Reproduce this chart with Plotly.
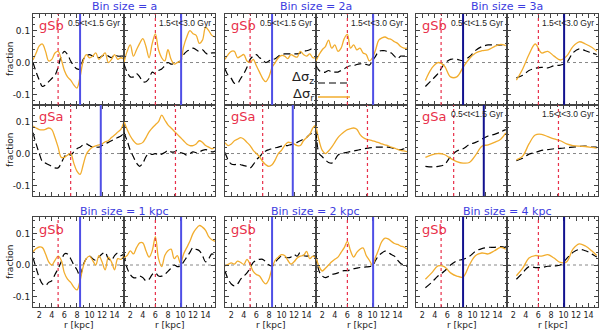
import plotly.graph_objects as go

W, H = 600, 330

# radius grids (kpc)
R_FINE = [1.0, 1.5, 2.0, 2.5, 3.0, 3.5, 4.0, 4.5, 5.0, 5.5, 6.0, 6.5, 7.0, 7.5, 8.0,
          8.5, 9.0, 9.5, 10.0, 10.5, 11.0, 11.5, 12.0, 12.5, 13.0, 13.5, 14.0, 14.5, 15.0, 15.5]
R_COARSE = [2.5, 3.5, 4.5, 5.5, 6.5, 7.5, 8.5, 9.5, 10.5, 11.5, 12.5, 13.5, 14.5, 15.3]

# ---- bin size = a, gSb (0.5<t<1.5 / 1.5<t<3.0) ----
A_SB_Z1 = [0.0, -0.03, -0.055, -0.075, -0.07, -0.06, -0.05, -0.04, -0.015, 0.02, 0.035, 0.025, 0.005, -0.01, -0.02,
           -0.02, 0.01, 0.02, 0.025, 0.02, 0.02, 0.015, 0.02, 0.025, 0.02, 0.015, 0.025, 0.02, 0.02, 0.022]
A_SB_R1 = [0.008, 0.03, 0.052, 0.058, 0.035, 0.005, 0.01, 0.03, 0.035, 0.01, -0.025, -0.045, -0.055, -0.07, -0.08,
           -0.045, 0.005, 0.025, 0.015, 0.02, 0.03, 0.01, 0.02, 0.03, 0.0, 0.01, 0.025, 0.01, 0.015, 0.01]
A_SB_Z2 = [-0.005, -0.03, -0.045, -0.045, -0.035, -0.045, -0.06, -0.06, -0.05, -0.03, -0.035, -0.025, -0.02, -0.01, 0.0,
           -0.005, -0.003, 0.0, 0.005, 0.025, 0.035, 0.04, 0.045, 0.04, 0.035, 0.04, 0.03, 0.025, 0.03, 0.03]
A_SB_R2 = [0.0, 0.035, 0.055, 0.02, 0.04, 0.06, 0.075, 0.05, 0.015, 0.06, 0.09, 0.04, 0.015, 0.005, 0.04,
           0.01, -0.005, 0.0, 0.005, 0.05, 0.08, 0.1, 0.09, 0.085, 0.06, 0.07, 0.11, 0.1, 0.085, 0.08]

# ---- bin size = 2a, gSb ----
B_SB_Z1 = [-0.02, -0.04, -0.05, -0.065, -0.065, -0.05, -0.035, -0.015, 0.01, 0.02, 0.025, 0.015, 0.01, 0.0, 0.005,
           0.01, 0.012, 0.02, 0.025, 0.027, 0.027, 0.027, 0.027, 0.027, 0.03, 0.035, 0.037, 0.04, 0.045, 0.047]
B_SB_R1 = [0.01, 0.025, 0.035, 0.035, 0.015, 0.02, 0.025, 0.005, 0.0, 0.01, -0.01, -0.03, -0.05, -0.06, -0.045,
           -0.015, 0.0, 0.015, 0.022, 0.02, 0.012, 0.025, 0.02, 0.017, 0.035, 0.025, 0.02, 0.027, 0.015, 0.015]
B_SB_Z2 = [-0.01, -0.025, -0.03, -0.03, -0.025, -0.03, -0.03, -0.03, -0.025, -0.02, -0.013, -0.01, -0.01, -0.006, -0.004,
           -0.004, -0.006, -0.008, 0.005, 0.02, 0.035, 0.037, 0.037, 0.033, 0.03, 0.02, 0.012, 0.02, 0.02, 0.02]
B_SB_R2 = [0.005, 0.025, 0.04, 0.05, 0.07, 0.045, 0.055, 0.035, 0.045, 0.075, 0.088, 0.045, 0.055, 0.04, 0.045,
           0.03, 0.025, 0.005, 0.015, 0.04, 0.07, 0.077, 0.08, 0.075, 0.072, 0.065, 0.06, 0.05, 0.045, 0.045]

# ---- bin size = 3a, gSb ----
C_SB_Z1 = [-0.075, -0.055, -0.035, -0.005, 0.01, 0.01, 0.006, 0.018, 0.038, 0.05, 0.055, 0.055, 0.055, 0.058]
C_SB_R1 = [-0.056, -0.018, 0.0, -0.01, -0.045, -0.045, -0.015, 0.012, 0.03, 0.037, 0.04, 0.05, 0.057, 0.053]
C_SB_Z2 = [-0.048, -0.04, -0.025, -0.018, -0.015, -0.017, -0.01, -0.008, 0.0, 0.03, 0.043, 0.037, 0.03, 0.025]
C_SB_R2 = [-0.055, -0.02, 0.025, 0.058, 0.03, 0.035, 0.02, 0.008, 0.02, 0.05, 0.065, 0.058, 0.048, 0.035]

# ---- bin size = a, gSa ----
A_SA_Z1 = [0.065, 0.03, 0.0, -0.025, -0.03, -0.035, -0.04, -0.045, -0.045, -0.03, -0.01, 0.0, -0.005, 0.005, 0.015,
           0.02, 0.027, 0.03, 0.025, 0.02, 0.02, 0.02, 0.025, 0.03, 0.035, 0.04, 0.045, 0.05, 0.055, 0.062]
A_SA_R1 = [0.086, 0.08, 0.075, 0.074, 0.076, 0.08, 0.075, 0.05, 0.02, -0.012, -0.012, -0.005, 0.0, -0.03, -0.055,
           -0.065, -0.035, -0.002, 0.012, 0.02, 0.024, 0.027, 0.03, 0.037, 0.04, 0.05, 0.058, 0.067, 0.076, 0.1]
A_SA_Z2 = [0.065, 0.04, 0.01, -0.01, -0.03, -0.04, -0.03, -0.01, 0.0, -0.003, 0.0, -0.005, -0.002, 0.003, 0.01,
           0.005, 0.005, 0.01, 0.003, 0.0, -0.005, 0.0, 0.005, 0.003, 0.005, 0.01, 0.012, 0.01, 0.005, 0.008]
A_SA_R2 = [0.1, 0.075, 0.055, 0.04, 0.03, 0.03, 0.035, 0.05, 0.068, 0.08, 0.09, 0.1, 0.12, 0.105, 0.09,
           0.08, 0.07, 0.06, 0.05, 0.04, 0.03, 0.025, 0.025, 0.03, 0.04, 0.035, 0.025, 0.02, 0.015, 0.02]

# ---- bin size = 2a, gSa ----
B_SA_Z1 = [0.003, -0.02, -0.033, -0.035, -0.033, -0.035, -0.038, -0.04, -0.045, -0.035, -0.02, -0.01, 0.0, 0.008, 0.012,
           0.015, 0.018, 0.02, 0.023, 0.025, 0.025, 0.028, 0.03, 0.035, 0.04, 0.045, 0.05, 0.06, 0.065, 0.07]
B_SA_R1 = [0.034, 0.025, 0.03, 0.04, 0.045, 0.05, 0.045, 0.035, 0.025, 0.01, 0.0, -0.01, -0.025, -0.035, -0.04,
           -0.035, -0.02, 0.0, 0.01, 0.025, 0.035, 0.034, 0.03, 0.025, 0.025, 0.04, 0.05, 0.06, 0.08, 0.09]
B_SA_Z2 = [0.07, 0.0, -0.01, -0.02, -0.028, -0.03, -0.02, -0.005, 0.0, 0.002, 0.004, 0.006, 0.008, 0.01, 0.012,
           0.014, 0.016, 0.018, 0.019, 0.02, 0.02, 0.02, 0.02, 0.02, 0.018, 0.015, 0.013, 0.012, 0.015, 0.018]
B_SA_R2 = [0.086, 0.04, 0.01, 0.0, 0.008, 0.02, 0.035, 0.05, 0.06, 0.068, 0.075, 0.078, 0.08, 0.076, 0.06,
           0.05, 0.045, 0.043, 0.04, 0.037, 0.034, 0.03, 0.027, 0.024, 0.02, 0.017, 0.013, 0.01, 0.008, 0.006]

# ---- bin size = 3a, gSa ----
C_SA_Z1 = [-0.04, -0.042, -0.04, -0.035, -0.01, 0.008, 0.015, 0.028, 0.035, 0.045, 0.055, 0.06, 0.068, 0.075]
C_SA_R1 = [-0.012, -0.004, 0.0, -0.003, -0.015, -0.025, -0.03, -0.028, -0.005, 0.023, 0.027, 0.035, 0.045, 0.065]
C_SA_Z2 = [-0.022, -0.015, -0.002, 0.003, 0.01, 0.012, 0.015, 0.016, 0.018, 0.02, 0.022, 0.023, 0.02, 0.02]
C_SA_R2 = [-0.02, -0.008, 0.03, 0.058, 0.06, 0.053, 0.046, 0.04, 0.03, 0.025, 0.023, 0.022, 0.019, 0.017]

# ---- bin size = 1 kpc, gSb ----
K1_SB_Z1 = [0.023, -0.01, -0.04, -0.06, -0.065, -0.055, -0.05, -0.03, -0.012, 0.01, 0.035, 0.035, 0.02, 0.0, -0.015,
            -0.035, 0.0, 0.02, 0.028, 0.02, 0.015, 0.025, 0.035, 0.04, 0.02, 0.015, 0.03, 0.038, 0.03, 0.035]
K1_SB_R1 = [0.042, 0.052, 0.057, 0.055, 0.035, 0.01, 0.0, 0.015, 0.028, 0.015, -0.025, -0.045, -0.055, -0.07, -0.079,
            -0.05, -0.005, 0.02, 0.028, 0.015, 0.0, 0.03, 0.01, -0.015, 0.025, 0.01, -0.015, 0.02, 0.018, 0.03]
K1_SB_Z2 = [0.035, -0.01, -0.03, -0.04, -0.04, -0.035, -0.04, -0.05, -0.045, -0.03, -0.025, -0.035, -0.035, -0.03, -0.02,
            -0.01, 0.0, -0.005, -0.003, 0.01, 0.025, 0.04, 0.055, 0.05, 0.045, 0.03, 0.01, 0.02, 0.035, 0.03]
K1_SB_R2 = [0.023, 0.03, 0.045, 0.035, 0.055, 0.07, 0.07, 0.045, 0.025, 0.045, 0.09, 0.02, -0.005, 0.03, 0.045,
            0.05, 0.02, 0.03, 0.005, 0.035, 0.055, 0.075, 0.1, 0.115, 0.125, 0.12, 0.11, 0.09, 0.08, 0.075]

# ---- bin size = 2 kpc, gSb ----
K2_SB_Z1 = [-0.019, -0.045, -0.06, -0.066, -0.06, -0.045, -0.035, -0.025, -0.01, 0.008, 0.015, 0.018, 0.018, 0.01, 0.0,
            -0.003, 0.008, 0.02, 0.028, 0.025, 0.023, 0.025, 0.033, 0.028, 0.04, 0.03, 0.028, 0.03, 0.028, 0.03]
K2_SB_R1 = [-0.003, 0.002, 0.007, 0.003, 0.012, 0.008, 0.002, 0.018, 0.002, -0.02, -0.03, -0.035, -0.05, -0.06, -0.045,
            -0.01, 0.015, 0.025, 0.033, 0.03, 0.015, 0.003, 0.01, 0.022, 0.028, 0.03, 0.043, 0.02, 0.028, 0.02]
K2_SB_Z2 = [0.03, -0.02, -0.035, -0.04, -0.036, -0.03, -0.028, -0.025, -0.02, -0.018, -0.018, -0.015, -0.012, -0.01, -0.008,
            -0.007, -0.006, -0.005, -0.003, 0.015, 0.03, 0.038, 0.044, 0.04, 0.033, 0.028, 0.015, 0.005, 0.0, -0.005]
K2_SB_R2 = [0.023, -0.005, -0.019, -0.01, 0.0, 0.01, 0.018, 0.025, 0.04, 0.055, 0.075, 0.045, 0.025, 0.04, 0.05,
            0.054, 0.03, 0.015, 0.0, 0.025, 0.05, 0.075, 0.085, 0.083, 0.075, 0.068, 0.065, 0.06, 0.057, 0.05]

# ---- bin size = 4 kpc, gSb ----
K4_SB_Z1 = [-0.072, -0.055, -0.035, -0.02, 0.0, 0.013, 0.018, 0.027, 0.044, 0.052, 0.056, 0.056, 0.058, 0.055]
K4_SB_R1 = [-0.045, -0.025, -0.003, -0.005, -0.025, -0.035, -0.038, 0.0, 0.03, 0.038, 0.035, 0.045, 0.056, 0.05]
K4_SB_Z2 = [-0.045, -0.025, -0.005, -0.008, -0.008, -0.004, -0.003, 0.0, 0.02, 0.04, 0.049, 0.045, 0.035, 0.025]
K4_SB_R2 = [-0.034, -0.01, 0.022, 0.03, 0.028, 0.033, 0.022, 0.008, 0.01, 0.05, 0.067, 0.06, 0.045, 0.03]

# vertical markers (kpc): red dotted / blue solid, per row and time window
RED_SB = [5.0, 6.0]
BLUE_SB = [8.5, 10.1]
RED_SA = [7.0, 9.2]
BLUE_SA = [11.8, None]

TOP_TITLES = ["Bin size = a", "Bin size = 2a", "Bin size = 3a"]
BOTTOM_TITLES = ["Bin size = 1 kpc", "Bin size = 2 kpc", "Bin size = 4 kpc"]
TIME_LABELS = ["0.5<t<1.5 Gyr", "1.5<t<3.0 Gyr"]
X_TICKS = [2, 4, 6, 8, 10, 12, 14]

ORANGE = "#f2ad2e"
RED = "#e8304a"
BLUE_LIGHT = "#4f4fe6"
BLUE_DARK = "#12128f"
TITLE_BLUE = "#3c3ce0"

# panel geometry in pixels
GROUP_X = [(33, 124, 215), (225, 316, 407), (416, 507, 598)]
ROW_Y = [(14, 105), (105, 196), (217, 307)]

rows = [
    [(R_FINE, A_SB_Z1, A_SB_R1, R_FINE, A_SB_Z2, A_SB_R2),
     (R_FINE, B_SB_Z1, B_SB_R1, R_FINE, B_SB_Z2, B_SB_R2),
     (R_COARSE, C_SB_Z1, C_SB_R1, R_COARSE, C_SB_Z2, C_SB_R2)],
    [(R_FINE, A_SA_Z1, A_SA_R1, R_FINE, A_SA_Z2, A_SA_R2),
     (R_FINE, B_SA_Z1, B_SA_R1, R_FINE, B_SA_Z2, B_SA_R2),
     (R_COARSE, C_SA_Z1, C_SA_R1, R_COARSE, C_SA_Z2, C_SA_R2)],
    [(R_FINE, K1_SB_Z1, K1_SB_R1, R_FINE, K1_SB_Z2, K1_SB_R2),
     (R_FINE, K2_SB_Z1, K2_SB_R1, R_FINE, K2_SB_Z2, K2_SB_R2),
     (R_COARSE, K4_SB_Z1, K4_SB_R1, R_COARSE, K4_SB_Z2, K4_SB_R2)],
]
ROW_GAL = ["gSb", "gSa", "gSb"]


def fx(p):
    return p / W


def fy(p):
    return 1 - p / H


def note(text, x, y, size, color="#222", xanchor="center", angle=0, family=None):
    font = dict(size=size, color=color)
    if family:
        font["family"] = family
    return dict(text=text, xref="paper", yref="paper", x=fx(x), y=fy(y), xanchor=xanchor,
                yanchor="middle", textangle=angle, showarrow=False, font=font)


fig = go.Figure()
layout = {}
shapes = []
annotations = []

n = 0
for ri, row in enumerate(rows):
    y0, y1 = ROW_Y[ri]
    reds = RED_SA if ri == 1 else RED_SB
    blues = BLUE_SA if ri == 1 else BLUE_SB
    for g, spec in enumerate(row):
        xl, xm, xr = GROUP_X[g]
        for c in range(2):
            n += 1
            sfx = "" if n == 1 else str(n)
            rgrid, z, r = spec[3 * c], spec[3 * c + 1], spec[3 * c + 2]
            px0, px1 = (xl, xm) if c == 0 else (xm, xr)
            layout["xaxis" + sfx] = dict(
                domain=[fx(px0), fx(px1)], anchor="y" + sfx, range=[1, 15.5],
                showline=True, linecolor="#444", linewidth=1, mirror="ticks",
                ticks="inside", ticklen=4, tickcolor="#444", tickvals=X_TICKS, tickangle=0,
                showticklabels=(ri == 2), tickfont=dict(size=8, color="#222"),
                minor=dict(ticks="inside", ticklen=2, dtick=1, tickcolor="#444"),
                showgrid=False, zeroline=False, fixedrange=True,
            )
            layout["yaxis" + sfx] = dict(
                domain=[fy(y1), fy(y0)], anchor="x" + sfx, range=[-0.133, 0.152],
                showline=True, linecolor="#444", linewidth=1, mirror="ticks",
                ticks="inside", ticklen=4, tickcolor="#444",
                tickvals=[-0.1, 0.0, 0.1], ticktext=["-0.1", "0.0", "0.1"],
                showticklabels=(g == 0 and c == 0), tickfont=dict(size=9, color="#222"),
                minor=dict(ticks="inside", ticklen=2, dtick=0.02, tickcolor="#444"),
                showgrid=False, zeroline=False, fixedrange=True,
            )
            xa, ya = "x" + sfx, "y" + sfx
            fig.add_trace(go.Scatter(x=rgrid, y=z, mode="lines", xaxis=xa, yaxis=ya,
                                     line=dict(color="black", width=1.2, dash="7px,4px", shape="spline"),
                                     showlegend=False, hoverinfo="skip"))
            fig.add_trace(go.Scatter(x=rgrid, y=r, mode="lines", xaxis=xa, yaxis=ya,
                                     line=dict(color=ORANGE, width=1.3, shape="spline"),
                                     showlegend=False, hoverinfo="skip"))
            # zero line
            shapes.append(dict(type="line", xref=xa + " domain", yref=ya, x0=0, x1=1, y0=0, y1=0,
                               line=dict(color="#888", width=1, dash="dot"), layer="below"))
            shapes.append(dict(type="line", xref=xa, yref=ya + " domain", x0=reds[c], x1=reds[c], y0=0, y1=1,
                               line=dict(color=RED, width=1.2, dash="dot")))
            if blues[c] is not None:
                shapes.append(dict(type="line", xref=xa, yref=ya + " domain", x0=blues[c], x1=blues[c], y0=0, y1=1,
                                   line=dict(color=BLUE_DARK if g == 2 else BLUE_LIGHT, width=2)))
            if c == 0:
                annotations.append(note(ROW_GAL[ri], px0 + 4, y0 + 12, 13, RED, xanchor="left"))
            if ri == 0 or (ri == 1 and g == 2):
                annotations.append(note(TIME_LABELS[c], px1 - 2, y0 + 9, 8.5, xanchor="right",
                                        family="Liberation Sans"))
            if ri == 2:
                annotations.append(note("r [kpc]", (px0 + px1) / 2, 325, 9))

# group titles
for g in range(3):
    xl, xm, xr = GROUP_X[g]
    annotations.append(note(TOP_TITLES[g], xm, 6, 11, TITLE_BLUE))
    annotations.append(note(BOTTOM_TITLES[g], xm, 211, 11, TITLE_BLUE))

# "fraction" labels
for cy in [59, 150, 262]:
    annotations.append(note("fraction", 10, cy, 9, angle=-90))

# legend inside the 2a gSb panels
annotations.append(note("Δσ<sub>z</sub>", 316, 77, 13, xanchor="right"))
annotations.append(note("Δσ<sub>r</sub>", 316, 94, 13, xanchor="right"))
shapes.append(dict(type="line", xref="paper", yref="paper", x0=fx(318), x1=fx(350), y0=fy(83), y1=fy(83),
                   line=dict(color="black", width=1.2, dash="7px,4px")))
shapes.append(dict(type="line", xref="paper", yref="paper", x0=fx(318), x1=fx(350), y0=fy(97), y1=fy(97),
                   line=dict(color=ORANGE, width=1.5)))

fig.update_layout(
    width=W, height=H, margin=dict(l=0, r=0, t=0, b=0),
    paper_bgcolor="white", plot_bgcolor="white",
    font=dict(family="DejaVu Sans", size=9, color="#222"),
    shapes=shapes, annotations=annotations, showlegend=False,
    **layout,
)

# drop the default page margin so the 600x330 figure fills the window exactly
fig.write_html("out.html", config={"displayModeBar": False},
               post_script="document.body.style.margin='0';document.body.style.overflow='hidden';")
